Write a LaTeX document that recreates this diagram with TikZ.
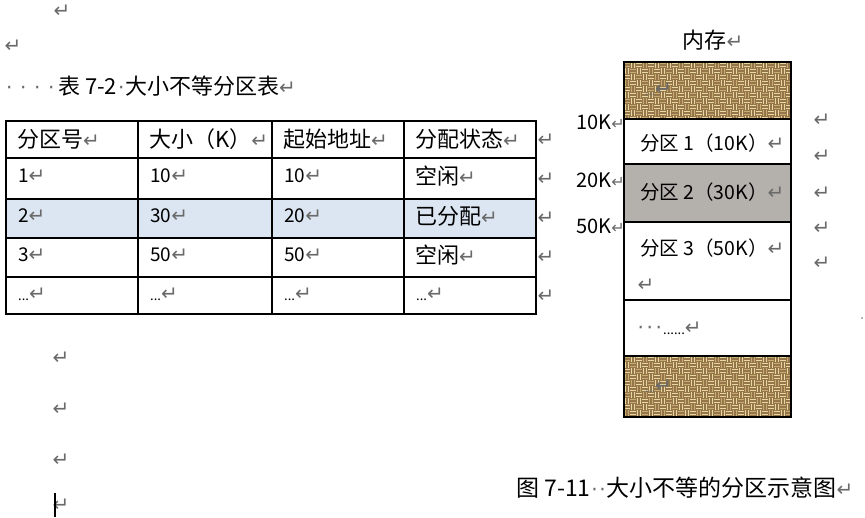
\documentclass[tikz,border=0pt]{standalone}
\usepackage{fontspec}
\setmainfont{Noto Sans CJK SC}
\newfontfamily\dejavu{DejaVu Sans}
\definecolor{retgray}{HTML}{6A6A6A}
\definecolor{rowblue}{HTML}{DCE6F2}
\definecolor{partgray}{HTML}{B4B1AD}
\definecolor{burlap}{HTML}{94764A}
\definecolor{threadA}{HTML}{EAD8A2}
\definecolor{threadB}{HTML}{C8AC70}
\newcommand{\rt}{{\dejavu\color{retgray}\fontsize{20}{20}\selectfont ↵}}
\newcommand{\rts}{{\dejavu\color{retgray}\fontsize{16}{16}\selectfont ↵}}
\newcommand{\md}[1]{\makebox[#1pt]{\dejavu\color{retgray}\fontsize{20}{20}\selectfont ·}}
\newcommand{\fsz}[1]{\fontsize{#1}{#1}\selectfont}
\newcommand{\weave}[4]{%
  \begin{scope}
  \clip (#1,#2) rectangle (#3,#4);
  \fill[burlap] (#1,#2) rectangle (#3,#4);
  \foreach \i in {0,...,28}{%
    \foreach \j in {0,...,10}{%
      \pgfmathtruncatemacro{\pp}{mod(\i+\j,2)}%
      \pgfmathtruncatemacro{\qq}{mod(\i*7+\j*5,3)}%
      \ifnum\qq=0 \def\tc{threadB}\else \def\tc{threadA}\fi
      \ifnum\pp=0
        \draw[\tc,line width=1.3] (#1+\i*6+0.4,#2+\j*6+1.5) -- ++(5.2,0);
        \draw[\tc,line width=1.3] (#1+\i*6+0.4,#2+\j*6+4.5) -- ++(5.2,0);
      \else
        \draw[\tc,line width=1.3] (#1+\i*6+1.5,#2+\j*6+0.4) -- ++(0,5.2);
        \draw[\tc,line width=1.3] (#1+\i*6+4.5,#2+\j*6+0.4) -- ++(0,5.2);
      \fi
    }}
  \end{scope}}
\tikzset{
  cell/.style={anchor=west,inner sep=0pt,font=\fsz{22}},
  num/.style={anchor=west,inner sep=0pt,font=\fsz{19}},
  grid/.style={draw=black,line width=1.2},
  mem/.style={draw=black,line width=1.6},
  lbl/.style={anchor=east,inner sep=0pt,font=\fsz{20}},
  ptxt/.style={anchor=west,inner sep=0pt,font=\fsz{19.5}},
  ret/.style={inner sep=0pt},
}
\begin{document}
\begin{tikzpicture}[x=1pt,y=-1pt]
\useasboundingbox (0,0) rectangle (865,518);
\fill[white] (0,0) rectangle (865,518);

% stray paragraph marks
\node[ret] (r0) at (62,11) {\rt};
\node[ret] (r1) at (13,46) {\rt};

% table caption
\node[anchor=west,inner sep=0pt,font=\fsz{22}] (cap1) at (2,86) {\md{14}\md{14}\md{14}\md{14}表 7-2\md{8}大小不等分区表\rt};

% table
\fill[rowblue] (6,199) rectangle (536,238);
\draw[grid] (6,121) rectangle (536,314);
\foreach \yy in {158,199,238,277}{\draw[grid] (6,\yy) -- (536,\yy);}
\foreach \xx in {138,272,404}{\draw[grid] (\xx,121) -- (\xx,314);}

\node[cell] (h1) at (17,139) {分区号\rt};
\node[cell] (h2) at (149,139) {大小（K）\rt};
\node[cell] (h3) at (283,139) {起始地址\rt};
\node[cell] (h4) at (415,139) {分配状态\rt};

\node[num] (a1) at (18,176) {1\rt};
\node[num] (a2) at (150,176) {10\rt};
\node[num] (a3) at (284,176) {10\rt};
\node[cell] (a4) at (415,176) {空闲\rt};

\node[num] (b1) at (18,216) {2\rt};
\node[num] (b2) at (150,216) {30\rt};
\node[num] (b3) at (284,216) {20\rt};
\node[cell] (b4) at (415,216) {已分配\rt};

\node[num] (c1) at (18,255) {3\rt};
\node[num] (c2) at (150,255) {50\rt};
\node[num] (c3) at (284,255) {50\rt};
\node[cell] (c4) at (415,255) {空闲\rt};

\node[num] (d1) at (18,294) {\fsz{13}...\rt};
\node[num] (d2) at (150,294) {\fsz{13}...\rt};
\node[num] (d3) at (284,294) {\fsz{13}...\rt};
\node[num] (d4) at (416,294) {\fsz{13}...\rt};

\foreach \yy/\nm in {140/e1,179/e2,218/e3,257/e4,296/e5}{\node[ret] (\nm) at (546,\yy) {\rt};}

% memory diagram
\node[inner sep=0pt,font=\fsz{22}] (memt) at (713,40) {内存\rt};
\weave{624}{62}{791}{119}
\weave{624}{356}{791}{417}
\fill[partgray] (624,164) rectangle (791,222);
\draw[mem] (624,62) rectangle (791,417);
\foreach \yy in {119,164,222,300,356}{\draw[mem] (624,\yy) -- (791,\yy);}

\node[ptxt,text=retgray] (tx1) at (645,89) {\fsz{12}...\rt};
\node[ptxt,text=retgray] (tx2) at (645,386) {\fsz{12}...\rt};

\node[ptxt] (p1) at (640,143) {分区 1（10K）\rt};
\node[ptxt] (p2) at (640,192) {分区 2（30K）\rt};
\node[ptxt] (p3) at (640,248) {分区 3（50K）\rt};
\node[ret] (p3b) at (646,285) {\rt};
\node[ptxt] (p4) at (636,328) {\md{9}\md{9}\md{9}\fsz{13}......\rt};

\node[lbl] (k10) at (625,122) {10K\rts};
\node[lbl] (k20) at (625,180) {20K\rts};
\node[lbl] (k50) at (625,226) {50K\rts};

\foreach \yy/\nm in {120/m1,156/m2,193/m3,228/m4,263/m5}{\node[ret] (\nm) at (822,\yy) {\rt};}
\fill[retgray] (862,318) circle (0.8);

% figure caption
\node[anchor=west,inner sep=0pt,font=\fsz{23}] (cap2) at (516,488) {图 7-11\md{8}\md{8}大小不等的分区示意图\rt};

% left bottom paragraph marks and cursor
\foreach \yy/\nm in {358/l1,409/l2,460/l3,505/l4}{\node[ret] (\nm) at (61,\yy) {\rt};}
\draw[black,line width=1.6] (55,493) -- (55,517);
\end{tikzpicture}
\end{document}
